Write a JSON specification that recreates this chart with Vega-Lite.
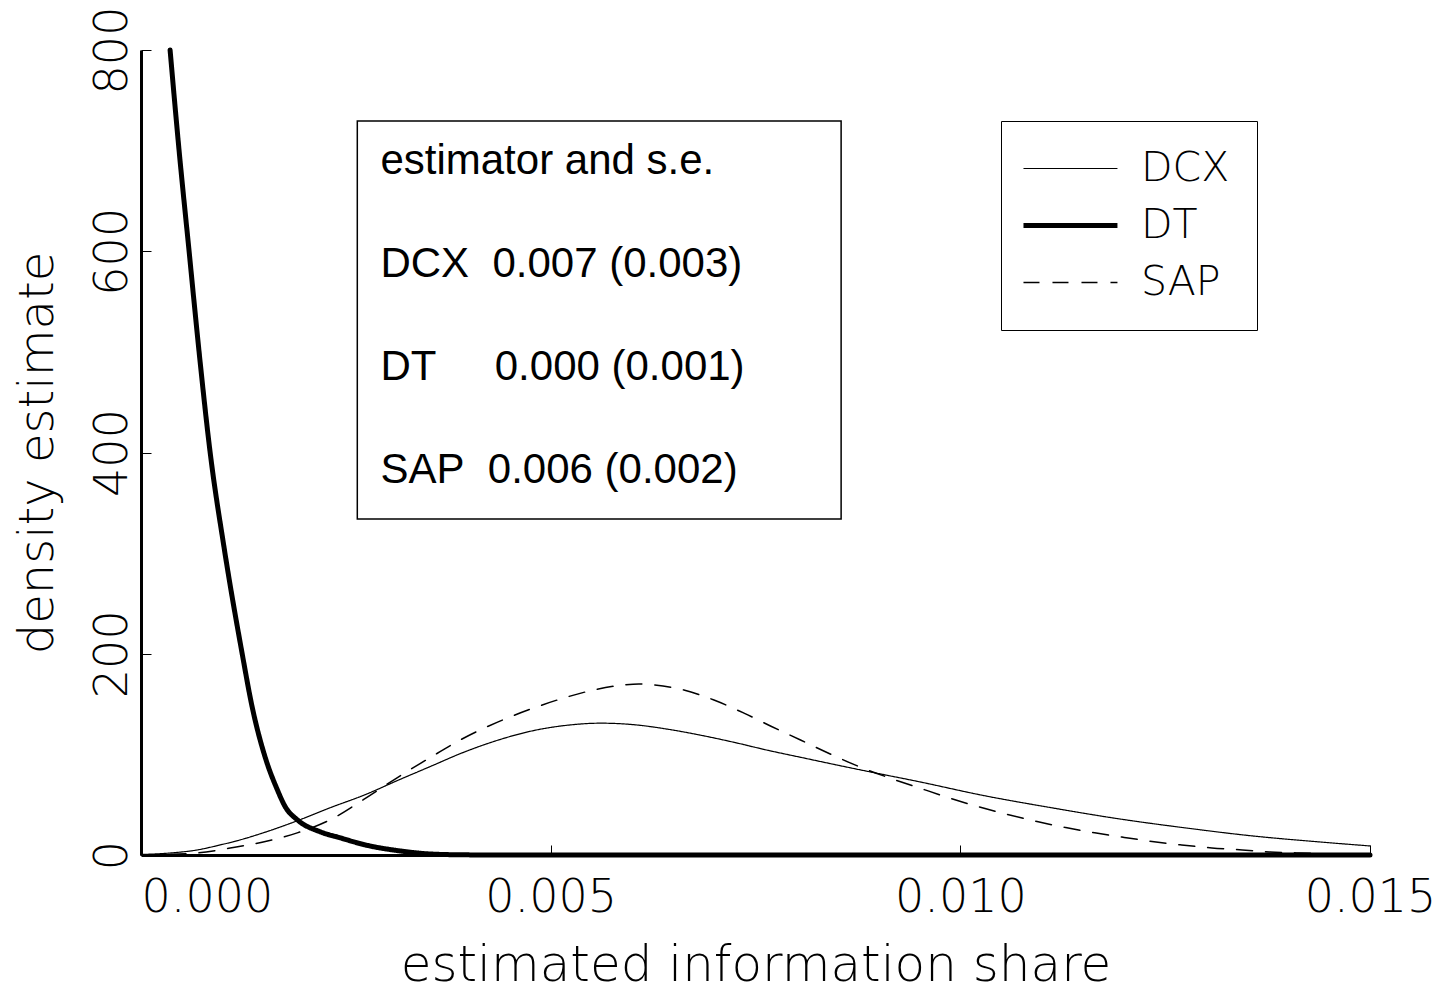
{
  "$schema": "https://vega.github.io/schema/vega-lite/v6.json",
  "width": 1229,
  "height": 805,
  "autosize": {"type": "none"},
  "padding": {"left": 141, "top": 50, "right": 73, "bottom": 136},
  "background": "white",
  "config": {
    "view": {"stroke": null},
    "axis": {
      "domainColor": "black",
      "domainWidth": 3,
      "tickColor": "black",
      "tickWidth": 1,
      "tickSize": -10,
      "grid": false,
      "labelFont": "DejaVu Sans",
      "labelFontSize": 46,
      "labelFontWeight": 200,
      "labelColor": "black",
      "titleFont": "DejaVu Sans",
      "titleFontSize": 48,
      "titleFontWeight": 200,
      "titleColor": "black",
      "labelFlush": false,
      "labelBound": false
    }
  },
  "layer": [
    {
      "data": {
        "values": [
          {"estimator": "DCX", "share": 0.0, "density": 0.5},
          {"estimator": "DCX", "share": 0.000355, "density": 2},
          {"estimator": "DCX", "share": 0.000685, "density": 5},
          {"estimator": "DCX", "share": 0.000966, "density": 10},
          {"estimator": "DCX", "share": 0.00121, "density": 15},
          {"estimator": "DCX", "share": 0.001491, "density": 22},
          {"estimator": "DCX", "share": 0.001907, "density": 34},
          {"estimator": "DCX", "share": 0.00231, "density": 47},
          {"estimator": "DCX", "share": 0.002738, "density": 60},
          {"estimator": "DCX", "share": 0.00313, "density": 74},
          {"estimator": "DCX", "share": 0.003533, "density": 88},
          {"estimator": "DCX", "share": 0.003936, "density": 102},
          {"estimator": "DCX", "share": 0.004352, "density": 114},
          {"estimator": "DCX", "share": 0.004755, "density": 123},
          {"estimator": "DCX", "share": 0.005208, "density": 129},
          {"estimator": "DCX", "share": 0.005611, "density": 131},
          {"estimator": "DCX", "share": 0.006015, "density": 129.5},
          {"estimator": "DCX", "share": 0.00643, "density": 125},
          {"estimator": "DCX", "share": 0.006834, "density": 119},
          {"estimator": "DCX", "share": 0.007237, "density": 112},
          {"estimator": "DCX", "share": 0.007653, "density": 104},
          {"estimator": "DCX", "share": 0.008056, "density": 97},
          {"estimator": "DCX", "share": 0.00846, "density": 90},
          {"estimator": "DCX", "share": 0.008875, "density": 83},
          {"estimator": "DCX", "share": 0.009487, "density": 73},
          {"estimator": "DCX", "share": 0.01029, "density": 59},
          {"estimator": "DCX", "share": 0.01111, "density": 47},
          {"estimator": "DCX", "share": 0.01193, "density": 36},
          {"estimator": "DCX", "share": 0.01274, "density": 27},
          {"estimator": "DCX", "share": 0.01356, "density": 19},
          {"estimator": "DCX", "share": 0.01438, "density": 13},
          {"estimator": "DCX", "share": 0.015, "density": 9},
          {"estimator": "DT", "share": 0.000355, "density": 800},
          {"estimator": "DT", "share": 0.000465, "density": 700},
          {"estimator": "DT", "share": 0.000587, "density": 600},
          {"estimator": "DT", "share": 0.000709, "density": 500},
          {"estimator": "DT", "share": 0.000844, "density": 400},
          {"estimator": "DT", "share": 0.001015, "density": 305},
          {"estimator": "DT", "share": 0.001235, "density": 200},
          {"estimator": "DT", "share": 0.001357, "density": 147},
          {"estimator": "DT", "share": 0.001516, "density": 97},
          {"estimator": "DT", "share": 0.001663, "density": 65},
          {"estimator": "DT", "share": 0.00176, "density": 48},
          {"estimator": "DT", "share": 0.001907, "density": 35},
          {"estimator": "DT", "share": 0.002188, "density": 23},
          {"estimator": "DT", "share": 0.002433, "density": 17},
          {"estimator": "DT", "share": 0.002738, "density": 10},
          {"estimator": "DT", "share": 0.003166, "density": 4},
          {"estimator": "DT", "share": 0.003533, "density": 1},
          {"estimator": "DT", "share": 0.0039, "density": 0.2},
          {"estimator": "DT", "share": 0.004389, "density": 0},
          {"estimator": "DT", "share": 0.015, "density": 0},
          {"estimator": "SAP", "share": 0.0, "density": 0},
          {"estimator": "SAP", "share": 0.000685, "density": 2},
          {"estimator": "SAP", "share": 0.001088, "density": 7},
          {"estimator": "SAP", "share": 0.001491, "density": 13},
          {"estimator": "SAP", "share": 0.001907, "density": 22},
          {"estimator": "SAP", "share": 0.00231, "density": 35},
          {"estimator": "SAP", "share": 0.002714, "density": 55},
          {"estimator": "SAP", "share": 0.00313, "density": 77},
          {"estimator": "SAP", "share": 0.003533, "density": 97},
          {"estimator": "SAP", "share": 0.003936, "density": 116},
          {"estimator": "SAP", "share": 0.004352, "density": 132},
          {"estimator": "SAP", "share": 0.004755, "density": 145},
          {"estimator": "SAP", "share": 0.005159, "density": 156},
          {"estimator": "SAP", "share": 0.005526, "density": 164},
          {"estimator": "SAP", "share": 0.005892, "density": 169},
          {"estimator": "SAP", "share": 0.006075, "density": 170},
          {"estimator": "SAP", "share": 0.006259, "density": 169},
          {"estimator": "SAP", "share": 0.006626, "density": 164},
          {"estimator": "SAP", "share": 0.006993, "density": 154},
          {"estimator": "SAP", "share": 0.007359, "density": 141},
          {"estimator": "SAP", "share": 0.007689, "density": 128},
          {"estimator": "SAP", "share": 0.008056, "density": 114},
          {"estimator": "SAP", "share": 0.008423, "density": 100},
          {"estimator": "SAP", "share": 0.00879, "density": 87},
          {"estimator": "SAP", "share": 0.009156, "density": 76},
          {"estimator": "SAP", "share": 0.009487, "density": 67},
          {"estimator": "SAP", "share": 0.009853, "density": 57},
          {"estimator": "SAP", "share": 0.01022, "density": 48},
          {"estimator": "SAP", "share": 0.01059, "density": 40},
          {"estimator": "SAP", "share": 0.01095, "density": 33},
          {"estimator": "SAP", "share": 0.01127, "density": 27.5},
          {"estimator": "SAP", "share": 0.01164, "density": 22},
          {"estimator": "SAP", "share": 0.012, "density": 17.5},
          {"estimator": "SAP", "share": 0.01234, "density": 13.5},
          {"estimator": "SAP", "share": 0.0127, "density": 10},
          {"estimator": "SAP", "share": 0.01307, "density": 7},
          {"estimator": "SAP", "share": 0.01344, "density": 5},
          {"estimator": "SAP", "share": 0.01377, "density": 3},
          {"estimator": "SAP", "share": 0.01413, "density": 2},
          {"estimator": "SAP", "share": 0.01457, "density": 1},
          {"estimator": "SAP", "share": 0.015, "density": 0.3}
        ]
      },
      "mark": {"type": "line", "color": "black", "interpolate": "monotone", "strokeCap": "round"},
      "encoding": {
        "x": {
          "field": "share",
          "type": "quantitative",
          "scale": {"domain": [0, 0.015], "nice": false, "zero": false},
          "axis": {
            "values": [0, 0.005, 0.01, 0.015],
            "format": ".3f",
            "title": "estimated information share",
            "titleFontSize": 50,
            "labelAlign": {"condition": {"test": "datum.value === 0", "value": "left"}, "value": "center"},
            "labelPadding": 30,
            "titlePadding": 20
          }
        },
        "y": {
          "field": "density",
          "type": "quantitative",
          "scale": {"domain": [0, 800], "nice": false},
          "axis": {
            "values": [0, 200, 400, 600, 800],
            "title": "density estimate",
            "labelAngle": -90,
            "labelAlign": "center",
            "labelBaseline": "bottom",
            "labelPadding": 15,
            "titlePadding": 27
          }
        },
        "strokeDash": {
          "field": "estimator",
          "type": "nominal",
          "scale": {"domain": ["DCX", "DT", "SAP"], "range": [[1, 0], [1, 0], [16, 13]]},
          "legend": {
            "title": null,
            "orient": "none",
            "legendX": 860,
            "legendY": 71,
            "symbolType": "M-2.13,0L5.87,0",
            "symbolSize": 552,
            "symbolStrokeColor": "black",
            "labelOffset": 72,
            "rowPadding": 15,
            "padding": 27,
            "strokeColor": "black",
            "labelFont": "DejaVu Sans",
            "labelFontSize": 41,
            "labelFontWeight": 200,
            "labelColor": "black",
            "encode": {
              "symbols": {
                "update": {
                  "strokeWidth": {"signal": "datum.value === 'DT' ? 5 : datum.value === 'SAP' ? 1.5 : 1.2"}
                }
              }
            }
          }
        },
        "strokeWidth": {
          "condition": [
            {"test": "datum.estimator === 'DT'", "value": 5},
            {"test": "datum.estimator === 'SAP'", "value": 1.5}
          ],
          "value": 1.2
        }
      }
    },
    {
      "data": {"values": [{"note": "estimates"}]},
      "mark": {"type": "rect", "filled": false, "stroke": "black", "strokeWidth": 1.5},
      "encoding": {
        "x": {"datum": 0.00264},
        "x2": {"datum": 0.008545},
        "y": {"datum": 729.4},
        "y2": {"datum": 334}
      }
    },
    {
      "data": {"values": [{"summary": "estimator and s.e.\nDCX\u00a0\u00a00.007 (0.003)\nDT\u00a0\u00a0\u00a0\u00a0\u00a00.000 (0.001)\nSAP\u00a0\u00a00.006 (0.002)"}]},
      "mark": {
        "type": "text",
        "align": "left",
        "baseline": "top",
        "lineBreak": "\n",
        "lineHeight": 103,
        "font": "Liberation Sans, Arial, sans-serif",
        "fontSize": 42,
        "color": "black"
      },
      "encoding": {
        "x": {"datum": 0.002922},
        "y": {"datum": 709.8},
        "text": {"field": "summary", "type": "nominal"}
      }
    }
  ]
}
